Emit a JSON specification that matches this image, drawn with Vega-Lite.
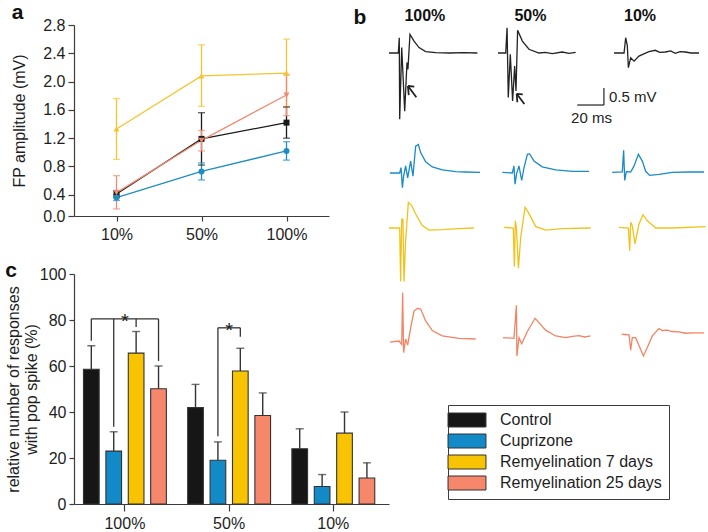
{
"$schema": "https://vega.github.io/schema/vega-lite/v6.json",
"padding": {"left": 5, "top": 2, "right": 0, "bottom": 0},
"config": {"font": "Liberation Sans", "view": {"stroke": null},
  "axis": {"grid": false, "domainColor": "#3c3c3c", "tickColor": "#3c3c3c", "domainWidth": 1.2, "tickWidth": 1.2, "labelColor": "#1e1e1e", "labelFontSize": 16, "titleFontSize": 16, "titleFontWeight": "normal", "titleColor": "#1e1e1e", "labelOverlap": false},
  "title": {"fontSize": 21, "fontWeight": "bold", "color": "#111", "anchor": "start"}},
"datasets": {
 "amp": [
  {"series": "Control", "stim": "10%", "mean": 0.41, "lo": 0.36, "hi": 0.46},
  {"series": "Control", "stim": "50%", "mean": 1.19, "lo": 0.82, "hi": 1.56},
  {"series": "Control", "stim": "100%", "mean": 1.42, "lo": 1.2, "hi": 1.64},
  {"series": "Cuprizone", "stim": "10%", "mean": 0.36, "lo": 0.32, "hi": 0.4},
  {"series": "Cuprizone", "stim": "50%", "mean": 0.73, "lo": 0.61, "hi": 0.85},
  {"series": "Cuprizone", "stim": "100%", "mean": 1.02, "lo": 0.89, "hi": 1.15},
  {"series": "Remyelination 7 days", "stim": "10%", "mean": 1.33, "lo": 0.9, "hi": 1.76},
  {"series": "Remyelination 7 days", "stim": "50%", "mean": 2.08, "lo": 1.65, "hi": 2.52},
  {"series": "Remyelination 7 days", "stim": "100%", "mean": 2.12, "lo": 1.65, "hi": 2.6},
  {"series": "Remyelination 25 days", "stim": "10%", "mean": 0.43, "lo": 0.2, "hi": 0.67},
  {"series": "Remyelination 25 days", "stim": "50%", "mean": 1.17, "lo": 1.02, "hi": 1.31},
  {"series": "Remyelination 25 days", "stim": "100%", "mean": 1.81, "lo": 1.52, "hi": 2.1}
 ],
 "pct": [
  {"stim": "100%", "series": "Control", "pct": 58.6, "err": 68.8},
  {"stim": "100%", "series": "Cuprizone", "pct": 23.0, "err": 31.4},
  {"stim": "100%", "series": "Remyelination 7 days", "pct": 65.6, "err": 75.0},
  {"stim": "100%", "series": "Remyelination 25 days", "pct": 50.1, "err": 60.0},
  {"stim": "50%", "series": "Control", "pct": 41.9, "err": 52.0},
  {"stim": "50%", "series": "Cuprizone", "pct": 19.0, "err": 27.0},
  {"stim": "50%", "series": "Remyelination 7 days", "pct": 57.8, "err": 67.7},
  {"stim": "50%", "series": "Remyelination 25 days", "pct": 38.5, "err": 48.3},
  {"stim": "10%", "series": "Control", "pct": 24.0, "err": 32.7},
  {"stim": "10%", "series": "Cuprizone", "pct": 7.6, "err": 12.8},
  {"stim": "10%", "series": "Remyelination 7 days", "pct": 30.8, "err": 40.0},
  {"stim": "10%", "series": "Remyelination 25 days", "pct": 11.3, "err": 17.9}
 ],
 "brackets": [
  {"seg": "h1", "stim": "100%", "series": "Control", "y": 80.5},
  {"seg": "h1", "stim": "100%", "series": "Remyelination 25 days", "y": 80.5},
  {"seg": "v1", "stim": "100%", "series": "Control", "y": 80.5},
  {"seg": "v1", "stim": "100%", "series": "Control", "y": 71},
  {"seg": "v2", "stim": "100%", "series": "Cuprizone", "y": 80.5},
  {"seg": "v2", "stim": "100%", "series": "Cuprizone", "y": 33.6},
  {"seg": "v3", "stim": "100%", "series": "Remyelination 7 days", "y": 80.5},
  {"seg": "v3", "stim": "100%", "series": "Remyelination 7 days", "y": 77},
  {"seg": "v4", "stim": "100%", "series": "Remyelination 25 days", "y": 80.5},
  {"seg": "v4", "stim": "100%", "series": "Remyelination 25 days", "y": 62.2},
  {"seg": "h2", "stim": "50%", "series": "Cuprizone", "y": 76.6},
  {"seg": "h2", "stim": "50%", "series": "Remyelination 7 days", "y": 76.6},
  {"seg": "v5", "stim": "50%", "series": "Cuprizone", "y": 76.6},
  {"seg": "v5", "stim": "50%", "series": "Cuprizone", "y": 29.5},
  {"seg": "v6", "stim": "50%", "series": "Remyelination 7 days", "y": 76.6},
  {"seg": "v6", "stim": "50%", "series": "Remyelination 7 days", "y": 72.7}
 ],
 "stars": [{"stim": "100%", "y": 80.5}, {"stim": "50%", "y": 76.6}],
 "arrows": [
  {"s": "100%", "seg": "a", "t": 14.0, "v": -0.97}, {"s": "100%", "seg": "a", "t": 20.2, "v": -1.30},
  {"s": "100%", "seg": "b", "t": 14.0, "v": -0.97}, {"s": "100%", "seg": "b", "t": 18.7, "v": -0.99},
  {"s": "100%", "seg": "c", "t": 14.0, "v": -0.97}, {"s": "100%", "seg": "c", "t": 14.6, "v": -1.24},
  {"s": "50%", "seg": "a", "t": 13.8, "v": -1.20}, {"s": "50%", "seg": "a", "t": 19.5, "v": -1.50},
  {"s": "50%", "seg": "b", "t": 13.8, "v": -1.20}, {"s": "50%", "seg": "b", "t": 18.3, "v": -1.22},
  {"s": "50%", "seg": "c", "t": 13.8, "v": -1.20}, {"s": "50%", "seg": "c", "t": 14.3, "v": -1.45}
 ],
 "scalebar": [
  {"seg": "h", "t": 58.6, "v": -1.53}, {"seg": "h", "t": 78.3, "v": -1.53},
  {"seg": "v", "t": 78.3, "v": -1.53}, {"seg": "v", "t": 78.3, "v": -1.03}
 ],
 "sbtext": [{"label": "0.5 mV", "t": 82, "v": -1.29}, {"label": "20 ms", "t": 54, "v": -1.91}],
 "legendItems": [{"series": "Control"}, {"series": "Cuprizone"}, {"series": "Remyelination 7 days"}, {"series": "Remyelination 25 days"}],
 "traces": [
  {"g":"Control","s":"100%","t":0,"v":0},{"g":"Control","s":"100%","t":6.9,"v":0},{"g":"Control","s":"100%","t":7.6,"v":0.45},{"g":"Control","s":"100%","t":7.9,"v":-1.95},{"g":"Control","s":"100%","t":9.4,"v":0.16},{"g":"Control","s":"100%","t":11.6,"v":-1.71},{"g":"Control","s":"100%","t":13.3,"v":-0.28},{"g":"Control","s":"100%","t":14.0,"v":-0.48},{"g":"Control","s":"100%","t":15.5,"v":0.55},{"g":"Control","s":"100%","t":18.5,"v":0.35},{"g":"Control","s":"100%","t":22.2,"v":0.16},{"g":"Control","s":"100%","t":27.1,"v":0.04},{"g":"Control","s":"100%","t":34.5,"v":0.01},{"g":"Control","s":"100%","t":45,"v":0},{"g":"Control","s":"100%","t":55,"v":0.01},{"g":"Control","s":"100%","t":65.3,"v":0},
  {"g":"Control","s":"50%","t":0,"v":0},{"g":"Control","s":"50%","t":5.7,"v":0},{"g":"Control","s":"50%","t":6.7,"v":0.74},{"g":"Control","s":"50%","t":7.6,"v":-1.31},{"g":"Control","s":"50%","t":9.1,"v":-0.04},{"g":"Control","s":"50%","t":10.8,"v":-1.41},{"g":"Control","s":"50%","t":12.3,"v":-0.38},{"g":"Control","s":"50%","t":13.3,"v":-1.12},{"g":"Control","s":"50%","t":14.5,"v":0.67},{"g":"Control","s":"50%","t":18.0,"v":0.35},{"g":"Control","s":"50%","t":22.9,"v":0.11},{"g":"Control","s":"50%","t":30.3,"v":0},{"g":"Control","s":"50%","t":35,"v":0.02},{"g":"Control","s":"50%","t":40.1,"v":-0.02},{"g":"Control","s":"50%","t":47.5,"v":0.03},{"g":"Control","s":"50%","t":52.5,"v":-0.01},{"g":"Control","s":"50%","t":57.4,"v":0.02},
  {"g":"Control","s":"10%","t":5.2,"v":0},{"g":"Control","s":"10%","t":12.6,"v":0},{"g":"Control","s":"10%","t":13.8,"v":0.45},{"g":"Control","s":"10%","t":15.0,"v":0.22},{"g":"Control","s":"10%","t":15.8,"v":-0.43},{"g":"Control","s":"10%","t":17.5,"v":-0.14},{"g":"Control","s":"10%","t":20.0,"v":-0.24},{"g":"Control","s":"10%","t":23.6,"v":-0.09},{"g":"Control","s":"10%","t":31.0,"v":0.04},{"g":"Control","s":"10%","t":35.7,"v":0.08},{"g":"Control","s":"10%","t":39,"v":0.02},{"g":"Control","s":"10%","t":43.1,"v":0.03},{"g":"Control","s":"10%","t":47,"v":0.06},{"g":"Control","s":"10%","t":50.5,"v":-0.01},{"g":"Control","s":"10%","t":54,"v":0.04},{"g":"Control","s":"10%","t":57.9,"v":0.03},{"g":"Control","s":"10%","t":62,"v":0},{"g":"Control","s":"10%","t":68,"v":0},
  {"g":"Cuprizone","s":"100%","t":0.7,"v":0},{"g":"Cuprizone","s":"100%","t":7.9,"v":0},{"g":"Cuprizone","s":"100%","t":8.9,"v":0.16},{"g":"Cuprizone","s":"100%","t":9.9,"v":-0.43},{"g":"Cuprizone","s":"100%","t":10.8,"v":-0.09},{"g":"Cuprizone","s":"100%","t":12.3,"v":0.21},{"g":"Cuprizone","s":"100%","t":13.8,"v":-0.14},{"g":"Cuprizone","s":"100%","t":16.0,"v":0.35},{"g":"Cuprizone","s":"100%","t":17.7,"v":-0.09},{"g":"Cuprizone","s":"100%","t":19.7,"v":0.79},{"g":"Cuprizone","s":"100%","t":21.7,"v":0.84},{"g":"Cuprizone","s":"100%","t":23.4,"v":0.6},{"g":"Cuprizone","s":"100%","t":27.1,"v":0.33},{"g":"Cuprizone","s":"100%","t":32.0,"v":0.18},{"g":"Cuprizone","s":"100%","t":39.4,"v":0.09},{"g":"Cuprizone","s":"100%","t":49.3,"v":0.04},{"g":"Cuprizone","s":"100%","t":56.7,"v":0.03},{"g":"Cuprizone","s":"100%","t":67.3,"v":0.02},
  {"g":"Cuprizone","s":"50%","t":3.2,"v":0.02},{"g":"Cuprizone","s":"50%","t":10.6,"v":0},{"g":"Cuprizone","s":"50%","t":11.8,"v":0.21},{"g":"Cuprizone","s":"50%","t":12.6,"v":-0.33},{"g":"Cuprizone","s":"50%","t":13.8,"v":-0.01},{"g":"Cuprizone","s":"50%","t":15.5,"v":0.21},{"g":"Cuprizone","s":"50%","t":17.5,"v":-0.22},{"g":"Cuprizone","s":"50%","t":19.2,"v":0.15},{"g":"Cuprizone","s":"50%","t":21.7,"v":0.55},{"g":"Cuprizone","s":"50%","t":23.4,"v":0.56},{"g":"Cuprizone","s":"50%","t":26.6,"v":0.35},{"g":"Cuprizone","s":"50%","t":32.7,"v":0.18},{"g":"Cuprizone","s":"50%","t":42.6,"v":0.09},{"g":"Cuprizone","s":"50%","t":54.9,"v":0.05},{"g":"Cuprizone","s":"50%","t":67.3,"v":0.05},
  {"g":"Cuprizone","s":"10%","t":3.9,"v":0.02},{"g":"Cuprizone","s":"10%","t":11.3,"v":0.03},{"g":"Cuprizone","s":"10%","t":12.3,"v":0.67},{"g":"Cuprizone","s":"10%","t":13.1,"v":-0.22},{"g":"Cuprizone","s":"10%","t":14.3,"v":0.04},{"g":"Cuprizone","s":"10%","t":17.5,"v":0.03},{"g":"Cuprizone","s":"10%","t":20,"v":0.21},{"g":"Cuprizone","s":"10%","t":23.2,"v":0.55},{"g":"Cuprizone","s":"10%","t":26.1,"v":0.35},{"g":"Cuprizone","s":"10%","t":28.6,"v":0.05},{"g":"Cuprizone","s":"10%","t":31.5,"v":-0.07},{"g":"Cuprizone","s":"10%","t":38.4,"v":-0.04},{"g":"Cuprizone","s":"10%","t":48.3,"v":0.02},{"g":"Cuprizone","s":"10%","t":60.6,"v":0.03},{"g":"Cuprizone","s":"10%","t":71.7,"v":0.03},
  {"g":"Remy7","s":"100%","t":0,"v":0},{"g":"Remy7","s":"100%","t":7.9,"v":0},{"g":"Remy7","s":"100%","t":8.6,"v":-1.57},{"g":"Remy7","s":"100%","t":9.4,"v":0.26},{"g":"Remy7","s":"100%","t":10.3,"v":0.26},{"g":"Remy7","s":"100%","t":11.1,"v":-1.57},{"g":"Remy7","s":"100%","t":12.3,"v":-0.37},{"g":"Remy7","s":"100%","t":14.3,"v":0.75},{"g":"Remy7","s":"100%","t":16.8,"v":0.66},{"g":"Remy7","s":"100%","t":19.7,"v":0.41},{"g":"Remy7","s":"100%","t":24.6,"v":0.07},{"g":"Remy7","s":"100%","t":29.6,"v":-0.06},{"g":"Remy7","s":"100%","t":39.4,"v":-0.05},{"g":"Remy7","s":"100%","t":51.7,"v":-0.02},{"g":"Remy7","s":"100%","t":62.8,"v":0},
  {"g":"Remy7","s":"50%","t":4.4,"v":0.02},{"g":"Remy7","s":"50%","t":11.3,"v":0},{"g":"Remy7","s":"50%","t":12.1,"v":-1.14},{"g":"Remy7","s":"50%","t":12.8,"v":0.21},{"g":"Remy7","s":"50%","t":13.6,"v":0.02},{"g":"Remy7","s":"50%","t":15.1,"v":-1.18},{"g":"Remy7","s":"50%","t":16.8,"v":-0.27},{"g":"Remy7","s":"50%","t":20,"v":0.61},{"g":"Remy7","s":"50%","t":22.4,"v":0.46},{"g":"Remy7","s":"50%","t":27.9,"v":0.04},{"g":"Remy7","s":"50%","t":35.3,"v":-0.06},{"g":"Remy7","s":"50%","t":47.5,"v":-0.02},{"g":"Remy7","s":"50%","t":68.5,"v":0},
  {"g":"Remy7","s":"10%","t":8.9,"v":0.02},{"g":"Remy7","s":"10%","t":15.8,"v":0},{"g":"Remy7","s":"10%","t":16.8,"v":-0.67},{"g":"Remy7","s":"10%","t":17.5,"v":0.17},{"g":"Remy7","s":"10%","t":18.7,"v":0.07},{"g":"Remy7","s":"10%","t":20.7,"v":-0.47},{"g":"Remy7","s":"10%","t":23.6,"v":0.11},{"g":"Remy7","s":"10%","t":26.6,"v":0.39},{"g":"Remy7","s":"10%","t":29.8,"v":0.21},{"g":"Remy7","s":"10%","t":36.0,"v":0},{"g":"Remy7","s":"10%","t":48.3,"v":0},{"g":"Remy7","s":"10%","t":72.9,"v":0.04},
  {"g":"Remy25","s":"100%","t":0.7,"v":-0.09},{"g":"Remy25","s":"100%","t":7.4,"v":-0.06},{"g":"Remy25","s":"100%","t":9.4,"v":-0.16},{"g":"Remy25","s":"100%","t":10.1,"v":1.36},{"g":"Remy25","s":"100%","t":10.8,"v":-0.4},{"g":"Remy25","s":"100%","t":12.3,"v":0},{"g":"Remy25","s":"100%","t":13.8,"v":-0.18},{"g":"Remy25","s":"100%","t":16.0,"v":0.33},{"g":"Remy25","s":"100%","t":18.5,"v":0.82},{"g":"Remy25","s":"100%","t":20.9,"v":0.9},{"g":"Remy25","s":"100%","t":23.4,"v":0.88},{"g":"Remy25","s":"100%","t":27.1,"v":0.53},{"g":"Remy25","s":"100%","t":32.0,"v":0.25},{"g":"Remy25","s":"100%","t":39.4,"v":0.09},{"g":"Remy25","s":"100%","t":51.7,"v":0.02},{"g":"Remy25","s":"100%","t":64.1,"v":0},
  {"g":"Remy25","s":"50%","t":3.7,"v":0.04},{"g":"Remy25","s":"50%","t":11.8,"v":0.02},{"g":"Remy25","s":"50%","t":13.6,"v":0.99},{"g":"Remy25","s":"50%","t":14.0,"v":-0.5},{"g":"Remy25","s":"50%","t":15.5,"v":0.04},{"g":"Remy25","s":"50%","t":17.5,"v":-0.14},{"g":"Remy25","s":"50%","t":21.7,"v":0.22},{"g":"Remy25","s":"50%","t":27.4,"v":0.61},{"g":"Remy25","s":"50%","t":30.3,"v":0.48},{"g":"Remy25","s":"50%","t":35.2,"v":0.26},{"g":"Remy25","s":"50%","t":42.6,"v":0.09},{"g":"Remy25","s":"50%","t":50.0,"v":0.04},{"g":"Remy25","s":"50%","t":55,"v":0.08},{"g":"Remy25","s":"50%","t":59.9,"v":0.1},{"g":"Remy25","s":"50%","t":64,"v":0.06},{"g":"Remy25","s":"50%","t":68.5,"v":0.09},
  {"g":"Remy25","s":"10%","t":10.9,"v":0.14},{"g":"Remy25","s":"10%","t":16.3,"v":0.12},{"g":"Remy25","s":"10%","t":17.5,"v":-0.33},{"g":"Remy25","s":"10%","t":18.7,"v":0.04},{"g":"Remy25","s":"10%","t":21.2,"v":0.04},{"g":"Remy25","s":"10%","t":26.9,"v":-0.5},{"g":"Remy25","s":"10%","t":29.8,"v":-0.25},{"g":"Remy25","s":"10%","t":33.5,"v":0.09},{"g":"Remy25","s":"10%","t":38.4,"v":0.31},{"g":"Remy25","s":"10%","t":41,"v":0.25},{"g":"Remy25","s":"10%","t":44.6,"v":0.26},{"g":"Remy25","s":"10%","t":48,"v":0.22},{"g":"Remy25","s":"10%","t":53.2,"v":0.21},{"g":"Remy25","s":"10%","t":58,"v":0.17},{"g":"Remy25","s":"10%","t":63.1,"v":0.18},{"g":"Remy25","s":"10%","t":71.7,"v":0.18}
 ]
},
"resolve": {"scale": {"x": "independent", "y": "independent", "fill": "independent"}, "legend": {"fill": "independent"}},
"spacing": -37,
"hconcat": [
 {"vconcat": [
  {"width": 255, "height": 191,
   "title": {"text": "a", "offset": -6},
   "data": {"name": "amp"},
   "encoding": {
     "x": {"field": "stim", "type": "ordinal", "sort": ["10%", "50%", "100%"], "scale": {"type": "point", "padding": 0.5}, "axis": {"title": null, "labelAngle": 0, "tickSize": 5, "labelPadding": 5}},
     "color": {"field": "series", "type": "nominal", "scale": {"domain": ["Control", "Cuprizone", "Remyelination 7 days", "Remyelination 25 days"], "range": ["#1a1a1a", "#1f8dc4", "#f5c431", "#ef8a72"]}, "legend": null}
   },
   "layer": [
     {"mark": {"type": "rule", "strokeWidth": 1.3},
      "encoding": {"y": {"field": "lo", "type": "quantitative", "title": "FP amplitude (mV)", "scale": {"domain": [0.1, 2.8], "nice": false, "zero": false},
        "axis": {"values": [0.1, 0.4, 0.8, 1.2, 1.6, 2.0, 2.4, 2.8], "labelExpr": "datum.value < 0.2 ? '0.0' : format(datum.value, '.1f')", "labelOverlap": false, "labelFlush": false, "tickSize": 6, "labelPadding": 3, "titlePadding": 15}},
        "y2": {"field": "hi"}}},
     {"mark": {"type": "tick", "size": 7, "thickness": 1.3}, "encoding": {"y": {"field": "lo", "type": "quantitative", "title": "FP amplitude (mV)",
        "axis": {"values": [0.1, 0.4, 0.8, 1.2, 1.6, 2.0, 2.4, 2.8], "labelExpr": "datum.value < 0.2 ? '0.0' : format(datum.value, '.1f')", "labelOverlap": false, "labelFlush": false, "tickSize": 6, "labelPadding": 3, "titlePadding": 15}}}},
     {"mark": {"type": "tick", "size": 7, "thickness": 1.3}, "encoding": {"y": {"field": "hi", "type": "quantitative", "title": "FP amplitude (mV)",
        "axis": {"values": [0.1, 0.4, 0.8, 1.2, 1.6, 2.0, 2.4, 2.8], "labelExpr": "datum.value < 0.2 ? '0.0' : format(datum.value, '.1f')", "labelOverlap": false, "labelFlush": false, "tickSize": 6, "labelPadding": 3, "titlePadding": 15}}}},
     {"mark": {"type": "line", "strokeWidth": 1.3}, "encoding": {"y": {"field": "mean", "type": "quantitative", "title": "FP amplitude (mV)",
        "axis": {"values": [0.1, 0.4, 0.8, 1.2, 1.6, 2.0, 2.4, 2.8], "labelExpr": "datum.value < 0.2 ? '0.0' : format(datum.value, '.1f')", "labelOverlap": false, "labelFlush": false, "tickSize": 6, "labelPadding": 3, "titlePadding": 15}}}},
     {"mark": {"type": "point", "filled": true, "size": 36, "opacity": 1},
      "encoding": {"y": {"field": "mean", "type": "quantitative", "title": "FP amplitude (mV)",
        "axis": {"values": [0.1, 0.4, 0.8, 1.2, 1.6, 2.0, 2.4, 2.8], "labelExpr": "datum.value < 0.2 ? '0.0' : format(datum.value, '.1f')", "labelOverlap": false, "labelFlush": false, "tickSize": 6, "labelPadding": 3, "titlePadding": 15}},
        "shape": {"field": "series", "type": "nominal", "scale": {"domain": ["Control", "Cuprizone", "Remyelination 7 days", "Remyelination 25 days"], "range": ["square", "circle", "triangle-up", "triangle-down"]}, "legend": null}}}
   ]},
  {"width": 315, "height": 230,
   "title": {"text": "c", "offset": -15},
   "data": {"name": "pct"},
   "encoding": {
     "x": {"field": "stim", "type": "nominal", "sort": ["100%", "50%", "10%"], "scale": {"paddingInner": 0.14, "paddingOuter": 0.0816, "align": 0.36}, "axis": {"title": null, "labelAngle": 0, "tickSize": 7, "labelPadding": 4}}
   },
   "layer": [
     {"mark": {"type": "rule", "color": "#333", "strokeWidth": 1.4},
      "encoding": {"xOffset": {"field": "series", "type": "nominal", "scale": {"domain": ["Control", "Cuprizone", "Remyelination 7 days", "Remyelination 25 days"], "paddingInner": 0.3, "paddingOuter": 0.15}},
        "y": {"field": "pct", "type": "quantitative", "title": ["relative number of responses", "with pop spike (%)"], "scale": {"domain": [0, 100], "nice": false},
          "axis": {"values": [0, 20, 40, 60, 80, 100], "tickSize": 5, "labelPadding": 3, "titlePadding": 0}},
        "y2": {"field": "err"}}},
     {"mark": {"type": "tick", "color": "#333", "size": 8, "thickness": 1.4},
      "encoding": {"xOffset": {"field": "series", "type": "nominal"}, "y": {"field": "err", "type": "quantitative", "title": ["relative number of responses", "with pop spike (%)"]}}},
     {"mark": {"type": "bar", "stroke": "#333", "strokeWidth": 1.1},
      "encoding": {"xOffset": {"field": "series", "type": "nominal"}, "y": {"field": "pct", "type": "quantitative", "title": ["relative number of responses", "with pop spike (%)"]},
        "color": {"field": "series", "type": "nominal", "scale": {"domain": ["Control", "Cuprizone", "Remyelination 7 days", "Remyelination 25 days"], "range": ["#161616", "#128ac8", "#f8c300", "#f7876b"]}, "legend": null}}},
     {"data": {"name": "brackets"}, "mark": {"type": "line", "color": "#333", "strokeWidth": 1.3},
      "encoding": {"xOffset": {"field": "series", "type": "nominal"}, "y": {"field": "y", "type": "quantitative", "title": ["relative number of responses", "with pop spike (%)"]}, "detail": {"field": "seg"}}},
     {"data": {"name": "stars"}, "mark": {"type": "text", "text": "*", "fontSize": 20, "baseline": "alphabetic", "dy": 9, "color": "#222"},
      "encoding": {"y": {"field": "y", "type": "quantitative", "title": ["relative number of responses", "with pop spike (%)"]}}}
   ]}
 ], "spacing": 18, "resolve": {"scale": {"x": "independent", "y": "independent", "color": "independent"}}},
 {"title": {"text": "b", "dx": -33, "offset": -20},
  "data": {"name": "traces"},
  "columns": 3,
  "spacing": {"row": 0, "column": 17},
  "bounds": "flush",
  "resolve": {"scale": {"x": "independent", "y": "independent", "fill": "independent"}, "legend": {"fill": "independent"}},
  "concat": [
   {"width": 92, "height": 98, "title": {"text": "100%", "dx": 18, "fontSize": 16, "offset": 1},
    "encoding": {"x": {"field": "t", "type": "quantitative", "scale": {"domain": [0, 68], "nice": false, "zero": false}, "axis": null}, "y": {"field": "v", "type": "quantitative", "scale": {"domain": [-2.059, 0.824], "nice": false, "zero": false}, "axis": null}},
    "layer": [
     {"transform": [{"filter": "datum.g == 'Control' && datum.s == '100%'"}], "mark": {"type": "line", "color": "#222", "strokeWidth": 1.3}},
     {"data": {"name": "arrows"}, "transform": [{"filter": "datum.s == '100%'"}], "mark": {"type": "line", "color": "#222", "strokeWidth": 1.8}, "encoding": {"detail": {"field": "seg"}}}
    ]},
   {"width": 92, "height": 98, "title": {"text": "50%", "dx": 19, "fontSize": 16, "offset": 1},
    "encoding": {"x": {"field": "t", "type": "quantitative", "scale": {"domain": [0, 68], "nice": false, "zero": false}, "axis": null}, "y": {"field": "v", "type": "quantitative", "scale": {"domain": [-2.059, 0.824], "nice": false, "zero": false}, "axis": null}},
    "layer": [
     {"transform": [{"filter": "datum.g == 'Control' && datum.s == '50%'"}], "mark": {"type": "line", "color": "#222", "strokeWidth": 1.3}},
     {"data": {"name": "arrows"}, "transform": [{"filter": "datum.s == '50%'"}], "mark": {"type": "line", "color": "#222", "strokeWidth": 1.8}, "encoding": {"detail": {"field": "seg"}}},
     {"data": {"name": "scalebar"}, "mark": {"type": "line", "color": "#222", "strokeWidth": 1.2}, "encoding": {"detail": {"field": "seg"}}},
     {"data": {"name": "sbtext"}, "mark": {"type": "text", "align": "left", "baseline": "middle", "fontSize": 15, "color": "#222"}, "encoding": {"text": {"field": "label"}}}
    ]},
   {"width": 92, "height": 98, "title": {"text": "10%", "dx": 17, "fontSize": 16, "offset": 1},
    "transform": [{"filter": "datum.g == 'Control' && datum.s == '10%'"}],
    "mark": {"type": "line", "color": "#222", "strokeWidth": 1.3},
    "encoding": {"x": {"field": "t", "type": "quantitative", "scale": {"domain": [0, 68], "nice": false, "zero": false}, "axis": null}, "y": {"field": "v", "type": "quantitative", "scale": {"domain": [-2.059, 0.824], "nice": false, "zero": false}, "axis": null}}},
   {"width": 92, "height": 73,
    "transform": [{"filter": "datum.g == 'Cuprizone' && datum.s == '100%'"}],
    "mark": {"type": "line", "color": "#1a8bc4", "strokeWidth": 1.3},
    "encoding": {"x": {"field": "t", "type": "quantitative", "scale": {"domain": [0, 68], "nice": false, "zero": false}, "axis": null}, "y": {"field": "v", "type": "quantitative", "scale": {"domain": [-0.676, 1.471], "nice": false, "zero": false}, "axis": null}}},
   {"width": 92, "height": 73,
    "transform": [{"filter": "datum.g == 'Cuprizone' && datum.s == '50%'"}],
    "mark": {"type": "line", "color": "#1a8bc4", "strokeWidth": 1.3},
    "encoding": {"x": {"field": "t", "type": "quantitative", "scale": {"domain": [0, 68], "nice": false, "zero": false}, "axis": null}, "y": {"field": "v", "type": "quantitative", "scale": {"domain": [-0.676, 1.471], "nice": false, "zero": false}, "axis": null}}},
   {"width": 92, "height": 73,
    "transform": [{"filter": "datum.g == 'Cuprizone' && datum.s == '10%'"}],
    "mark": {"type": "line", "color": "#1a8bc4", "strokeWidth": 1.3},
    "encoding": {"x": {"field": "t", "type": "quantitative", "scale": {"domain": [0, 68], "nice": false, "zero": false}, "axis": null}, "y": {"field": "v", "type": "quantitative", "scale": {"domain": [-0.676, 1.471], "nice": false, "zero": false}, "axis": null}}},
   {"width": 92, "height": 90,
    "transform": [{"filter": "datum.g == 'Remy7' && datum.s == '100%'"}],
    "mark": {"type": "line", "color": "#f2c21b", "strokeWidth": 1.3},
    "encoding": {"x": {"field": "t", "type": "quantitative", "scale": {"domain": [0, 68], "nice": false, "zero": false}, "axis": null}, "y": {"field": "v", "type": "quantitative", "scale": {"domain": [-1.706, 0.941], "nice": false, "zero": false}, "axis": null}}},
   {"width": 92, "height": 90,
    "transform": [{"filter": "datum.g == 'Remy7' && datum.s == '50%'"}],
    "mark": {"type": "line", "color": "#f2c21b", "strokeWidth": 1.3},
    "encoding": {"x": {"field": "t", "type": "quantitative", "scale": {"domain": [0, 68], "nice": false, "zero": false}, "axis": null}, "y": {"field": "v", "type": "quantitative", "scale": {"domain": [-1.706, 0.941], "nice": false, "zero": false}, "axis": null}}},
   {"width": 92, "height": 90,
    "transform": [{"filter": "datum.g == 'Remy7' && datum.s == '10%'"}],
    "mark": {"type": "line", "color": "#f2c21b", "strokeWidth": 1.3},
    "encoding": {"x": {"field": "t", "type": "quantitative", "scale": {"domain": [0, 68], "nice": false, "zero": false}, "axis": null}, "y": {"field": "v", "type": "quantitative", "scale": {"domain": [-1.706, 0.941], "nice": false, "zero": false}, "axis": null}}},
   {"width": 92, "height": 75,
    "transform": [{"filter": "datum.g == 'Remy25' && datum.s == '100%'"}],
    "mark": {"type": "line", "color": "#f08464", "strokeWidth": 1.3},
    "encoding": {"x": {"field": "t", "type": "quantitative", "scale": {"domain": [0, 68], "nice": false, "zero": false}, "axis": null}, "y": {"field": "v", "type": "quantitative", "scale": {"domain": [-0.647, 1.559], "nice": false, "zero": false}, "axis": null}}},
   {"width": 92, "height": 75,
    "transform": [{"filter": "datum.g == 'Remy25' && datum.s == '50%'"}],
    "mark": {"type": "line", "color": "#f08464", "strokeWidth": 1.3},
    "encoding": {"x": {"field": "t", "type": "quantitative", "scale": {"domain": [0, 68], "nice": false, "zero": false}, "axis": null}, "y": {"field": "v", "type": "quantitative", "scale": {"domain": [-0.647, 1.559], "nice": false, "zero": false}, "axis": null}}},
   {"width": 92, "height": 75,
    "transform": [{"filter": "datum.g == 'Remy25' && datum.s == '10%'"}],
    "mark": {"type": "line", "color": "#f08464", "strokeWidth": 1.3},
    "encoding": {"x": {"field": "t", "type": "quantitative", "scale": {"domain": [0, 68], "nice": false, "zero": false}, "axis": null}, "y": {"field": "v", "type": "quantitative", "scale": {"domain": [-0.647, 1.559], "nice": false, "zero": false}, "axis": null}}},
   {"width": 92, "height": 135,
    "data": {"name": "legendItems"},
    "mark": {"type": "square", "opacity": 0},
    "encoding": {"fill": {"field": "series", "type": "nominal",
      "scale": {"domain": ["Control", "Cuprizone", "Remyelination 7 days", "Remyelination 25 days"], "range": ["#161616", "#128ac8", "#f8c300", "#f7876b"]},
      "legend": {"orient": "none", "legendX": 59, "legendY": 44, "title": null, "symbolType": "M-2.71,-1L2.71,-1L2.71,1L-2.71,1Z", "symbolSize": 196, "symbolStrokeColor": "#333", "symbolStrokeWidth": 1, "symbolOpacity": 1, "symbolOffset": 4, "labelFontSize": 16, "labelColor": "#1e1e1e", "labelOffset": 25, "labelLimit": 400, "rowPadding": 3, "padding": 7, "strokeColor": "#3c3c3c"}}}}
  ]}
]
}
